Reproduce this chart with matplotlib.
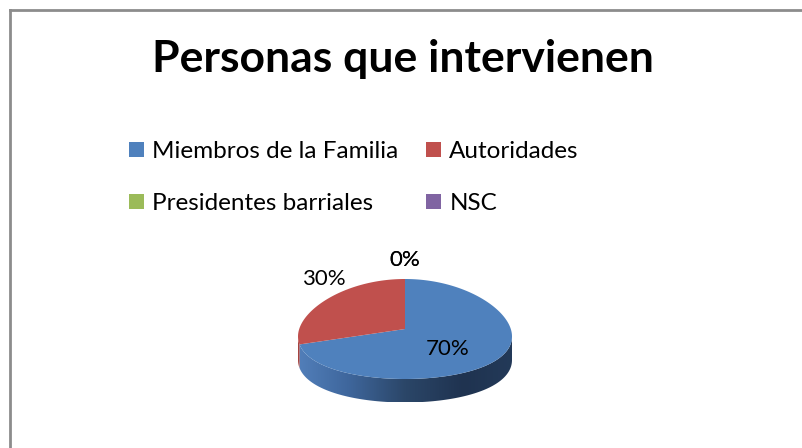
import numpy as np
import matplotlib
matplotlib.use('Agg')
import matplotlib.pyplot as plt
from matplotlib.patches import Polygon, Rectangle
from matplotlib.lines import Line2D
from matplotlib.colors import LinearSegmentedColormap

# data
categories = ['Miembros de la Familia', 'Autoridades', 'Presidentes barriales', 'NSC']
values = [70, 30, 0, 0]
colors = ['#4f81bd', '#c0504d', '#9bbb59', '#8064a2']
title = 'Personas que intervienen'

plt.rcParams['font.family'] = ['Lato', 'DejaVu Sans']

W, H = 802, 448
fig = plt.figure(figsize=(W / 100, H / 100), dpi=100)

# frame lines (only top and left show in the picture)
fig.add_artist(Line2D([10 / W, 10 / W], [0, 1 - 10 / H], transform=fig.transFigure,
                      color='#8c8c8c', lw=2))
fig.add_artist(Line2D([10 / W, 1], [1 - 10 / H, 1 - 10 / H], transform=fig.transFigure,
                      color='#8c8c8c', lw=2))

fig.text(403 / W, 1 - 59 / H, title, ha='center', va='center',
         fontsize=32, fontweight='bold')

#### 3d-ish pie: tilted disc, front a little wider than back (perspective)
persp = 0.15
thick = 0.47
cx, cy = 405, 329
ax_px = 107 * np.sqrt(1 - persp ** 2)   # px per unit in x
ay_px = 50                              # px per unit in y
left_px, right_px, top_px, bot_px = 285, 525, 245, 415
ax = fig.add_axes([left_px / W, 1 - bot_px / H, (right_px - left_px) / W, (bot_px - top_px) / H])
ax.axis('off')


def proj(t):
    return np.cos(t) / (1 + persp * np.sin(t)), np.sin(t)


fr = np.array(values) / sum(values)
angles = 90 - 360 * np.concatenate([[0], np.cumsum(fr)])  # clockwise from 12 o'clock

# side wall, only the front part between the two widest points is visible
vis_lo = -180 + np.degrees(np.arcsin(persp))
vis_hi = -np.degrees(np.arcsin(persp))
grad = np.linspace(0, 1, 256).reshape(1, -1)
side_cmaps = [
    LinearSegmentedColormap.from_list('b', ['#5583bf', '#3f679d', '#2b4668', '#1f3350', '#243b5a']),
    LinearSegmentedColormap.from_list('r', ['#a84440', '#7a2e2c']),
    LinearSegmentedColormap.from_list('g', ['#86a34a', '#5d7233']),
    LinearSegmentedColormap.from_list('p', ['#6d5590', '#4b3b63']),
]
for i in range(len(values)):
    a1, a0 = angles[i + 1], angles[i]
    if a0 - a1 <= 0:
        continue
    for shift in (0, 360, -360):
        lo = max(a1 + shift, vis_lo)
        hi = min(a0 + shift, vis_hi)
        if hi > lo:
            xs, ys = proj(np.radians(np.linspace(lo, hi, 120)))
            pts = np.column_stack([np.concatenate([xs, xs[::-1]]),
                                   np.concatenate([ys, ys[::-1] - thick])])
            poly = Polygon(pts, closed=True, facecolor='none', edgecolor='none')
            ax.add_patch(poly)
            im = ax.imshow(grad, cmap=side_cmaps[i], aspect='auto',
                           extent=(-1.1, 1.1, -1 - thick, 0.5), zorder=1)
            im.set_clip_path(poly)

# top face slices
for i in range(len(values)):
    a1, a0 = angles[i + 1], angles[i]
    if a0 - a1 <= 0:
        continue
    xs, ys = proj(np.radians(np.linspace(a0, a1, 200)))
    ax.fill(np.r_[0, xs], np.r_[0, ys], color=colors[i], lw=0, zorder=2)
ax.set_xlim((left_px - cx) / ax_px, (right_px - cx) / ax_px)
ax.set_ylim((cy - bot_px) / ay_px, (cy - top_px) / ay_px)
ax.set_aspect('auto')

# data labels
for i, v in enumerate(values):
    mid = np.radians((angles[i] + angles[i + 1]) / 2)
    if v >= 50:
        x, y = 0.5 * np.cos(mid), 0.5 * np.sin(mid) - 0.1
    else:
        x, y = 0.95 * np.cos(mid), 0.95 * np.sin(mid) + 0.44
    ax.text(x, y, f'{v}%', ha='center', va='center', fontsize=16, zorder=5)

# legend, filled row by row like the original
order = [0, 2, 1, 3]
handles = [Rectangle((0, 0), 1, 1, facecolor=c, edgecolor='none') for c in colors]
fig.legend([handles[k] for k in order], [categories[k] for k in order], ncol=2,
           loc='upper left', bbox_to_anchor=(129 / W, 1 - 141 / H), frameon=False,
           fontsize=17.5, handlelength=0.6, handleheight=0.6, handletextpad=0.35,
           labelspacing=1.28, columnspacing=1.15, borderpad=0, borderaxespad=0)

fig.savefig('out.png', dpi=100)
